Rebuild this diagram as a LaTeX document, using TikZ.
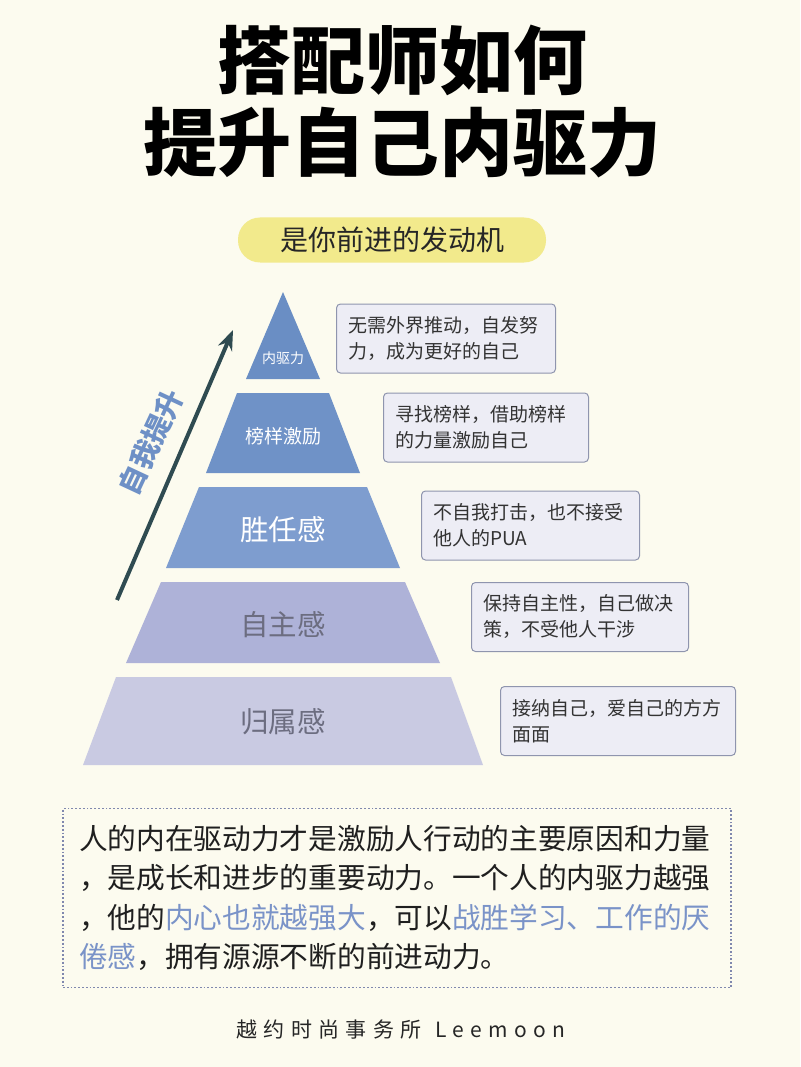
\documentclass[tikz,border=0pt]{standalone}
\usepackage{fontspec}
\setmainfont{Noto Sans CJK SC}
\usetikzlibrary{arrows.meta}

\definecolor{bgcream}{HTML}{FCFBEF}
\definecolor{pillyellow}{HTML}{F2EA8C}
\definecolor{layerone}{HTML}{6A8EC4}
\definecolor{layertwo}{HTML}{6F92C7}
\definecolor{layerthree}{HTML}{7E9DCF}
\definecolor{layerfour}{HTML}{AEB2D8}
\definecolor{layerfive}{HTML}{C9CAE2}
\definecolor{labelgray}{HTML}{6C6D80}
\definecolor{climbteal}{HTML}{2F4B51}
\definecolor{climbblue}{HTML}{6E90C6}
\definecolor{boxfill}{HTML}{EDEDF5}
\definecolor{boxline}{HTML}{8F95AE}
\definecolor{dotline}{HTML}{8088AE}
\definecolor{accentblue}{HTML}{7A93C8}

\begin{document}
\begin{tikzpicture}
            [
                x=1pt, y=-1pt,
                pill/.style={fill=pillyellow, rounded corners=22pt,
                    minimum width=308pt, minimum height=45pt,
                    font=\fontsize{28}{28}\selectfont, text=black!85},
                pyrlabel/.style={text=white, inner sep=0pt},
                descbox/.style={draw=boxline, fill=boxfill, line width=1pt,
                    rounded corners=4pt, anchor=west, align=left,
                    inner xsep=12pt, minimum height=69pt,
                    font=\fontsize{19}{26}\selectfont, text=black!80},
                summary/.style={draw=dotline, line width=1.6pt,
                    dash pattern=on 1.8pt off 2pt,
                    minimum width=668pt, minimum height=179pt,
                    text width=636pt, inner xsep=16pt, align=left,
                    font=\fontsize{28.7}{39.3}\selectfont, text=black!88},
                climb/.style={draw=climbteal, line width=4pt,
                    -{Stealth[length=20pt, width=15pt]}}
            ]
            \useasboundingbox (0,0) rectangle (800,1067);
            \fill[bgcream] (0,0) rectangle (800,1067);

            \node[font=\fontsize{74}{82}\selectfont\bfseries, align=center] (title) at (402,101) {
                搭配师如何 \\
                提升自己内驱力
            };
            \node[pill] (slogan) at (392,240) {是你前进的发动机};

            \fill[layerone] (283,292) -- (320,379) -- (246,379) -- cycle;
            \fill[layertwo] (237,393) -- (329,393) -- (360,473) -- (206,473) -- cycle;
            \fill[layerthree] (199,487) -- (367,487) -- (400,568) -- (166,568) -- cycle;
            \fill[layerfour] (161,582) -- (405,582) -- (440,663) -- (126,663) -- cycle;
            \fill[layerfive] (116,677) -- (451,677) -- (483,765) -- (83,765) -- cycle;

            \node[pyrlabel, font=\fontsize{14}{14}\selectfont] (drive) at (283,358) {内驱力};
            \node[pyrlabel, font=\fontsize{19}{19}\selectfont] (model) at (283,436) {榜样激励};
            \node[pyrlabel, font=\fontsize{28.5}{28.5}\selectfont] (competence) at (283,530) {胜任感};
            \node[pyrlabel, text=labelgray, font=\fontsize{28.5}{28.5}\selectfont] (autonomy) at (283,625) {自主感};
            \node[pyrlabel, text=labelgray, font=\fontsize{28.5}{28.5}\selectfont] (belonging) at (283,722) {归属感};

            \coordinate (climbstart) at (117,600);
            \coordinate (climbend) at (233,330);
            \draw[climb] (climbstart) -- (climbend);
            \node[rotate=65, text=climbblue, font=\fontsize{28}{28}\selectfont\bfseries] (climblabel) at (151,442) {自我提升};

            \node[descbox, text width=195pt] (drivenote) at (336,338.5) {
                无需外界推动，自发努 \\
                力，成为更好的自己
            };
            \node[descbox, text width=181pt] (modelnote) at (383,427.5) {
                寻找榜样，借助榜样 \\
                的力量激励自己
            };
            \node[descbox, text width=194pt] (competencenote) at (421,525.5) {
                不自我打击，也不接受 \\
                他人的PUA
            };
            \node[descbox, text width=193pt] (autonomynote) at (471,617) {
                保持自主性，自己做决 \\
                策，不受他人干涉
            };
            \node[descbox, text width=211pt] (belongingnote) at (500,721) {
                接纳自己，爱自己的方方 \\
                面面
            };

            \node[summary] (summarybox) at (397,898) {
                人的内在驱动力才是激励人行动的主要原因和力量 \\
                ，是成长和进步的重要动力。一个人的内驱力越强 \\
                ，他的\textcolor{accentblue}{内心也就越强大}，可以\textcolor{accentblue}{战胜学习、工作的厌} \\
                \textcolor{accentblue}{倦感}，拥有源源不断的前进动力。
            };

            \node[font=\fontsize{21}{21}\selectfont\addfontfeature{LetterSpace=30}, text=black!85] (footer) at (401,1030) {越约时尚事务所\hspace{14pt}Leemoon};
\end{tikzpicture}
\end{document}
